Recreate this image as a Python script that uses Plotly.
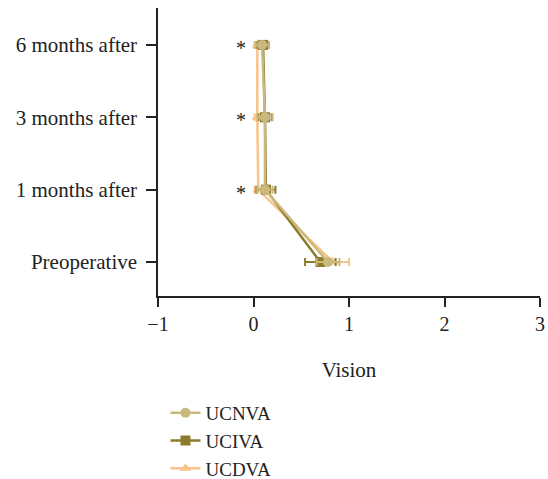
import plotly.graph_objects as go

categories = ["Preoperative", "1 months after", "3 months after", "6 months after"]
ucnva = [0.78, 0.12, 0.12, 0.09]
ucnva_err = [0.12, 0.08, 0.08, 0.07]
uciva = [0.70, 0.13, 0.12, 0.10]
uciva_err = [0.16, 0.10, 0.07, 0.06]
ucdva = [0.83, 0.05, 0.04, 0.04]
ucdva_err = [0.17, 0.04, 0.03, 0.03]
star_cats = ["1 months after", "3 months after", "6 months after"]

font_family = "Liberation Serif"
W, H = 548, 479
fig = go.Figure()

series = [
    ("UCDVA", ucdva, ucdva_err, "#F8C48A", "triangle-up", 3),
    ("UCIVA", uciva, uciva_err, "#8C7B2E", "square", 2),
    ("UCNVA", ucnva, ucnva_err, "#C9B97C", "circle", 1),
]
for name, vals, errs, col, sym, rank in series:
    fig.add_trace(go.Scatter(
        x=vals, y=categories, name=name, mode="lines+markers",
        legendrank=rank,
        line=dict(color=col, width=2.5),
        marker=dict(color=col, symbol=sym, size=10),
        error_x=dict(type="data", array=errs, color=col, thickness=2, width=4),
    ))

for c in star_cats:
    fig.add_annotation(x=-0.13, y=c, text="*", showarrow=False,
                       font=dict(family=font_family, size=20, color="#222"),
                       yshift=-3)

fig.update_layout(
    width=W, height=H,
    margin=dict(l=0, r=0, t=0, b=0, autoexpand=False),
    paper_bgcolor="white", plot_bgcolor="white",
    font=dict(family=font_family, size=20, color="#222"),
    showlegend=True,
    legend=dict(x=0.302, y=0.1775, xanchor="left", yanchor="top",
                font=dict(family=font_family, size=19, color="#222"),
                tracegroupgap=0, itemwidth=30, traceorder="normal"),
)
fig.update_xaxes(range=[-1, 3], tickvals=[-1, 0, 1, 2, 3],
                 ticktext=["−1", "0", "1", "2", "3"],
                 domain=[158 / W, 540 / W], automargin=False,
                 showline=True, linecolor="#222", linewidth=1.5,
                 ticks="outside", ticklen=9, tickwidth=1.5, tickcolor="#222",
                 ticklabelstandoff=0,
                 showgrid=False, zeroline=False,
                 title=dict(text="Vision", standoff=29,
                            font=dict(family=font_family, size=21)))
fig.update_yaxes(type="category", categoryorder="array", categoryarray=categories,
                 range=[-0.47, 3.51],
                 domain=[(H - 296) / H, (H - 8) / H], automargin=False,
                 showline=True, linecolor="#222", linewidth=1.5,
                 ticks="outside", ticklen=10, tickwidth=1.5, tickcolor="#222",
                 ticklabelstandoff=5,
                 tickfont=dict(family=font_family, size=21),
                 showgrid=False, zeroline=False)

fig.write_html("out.html",
               config={"displayModeBar": False},
               post_script="document.body.style.margin='0';"
                           "document.body.style.overflow='hidden';")
